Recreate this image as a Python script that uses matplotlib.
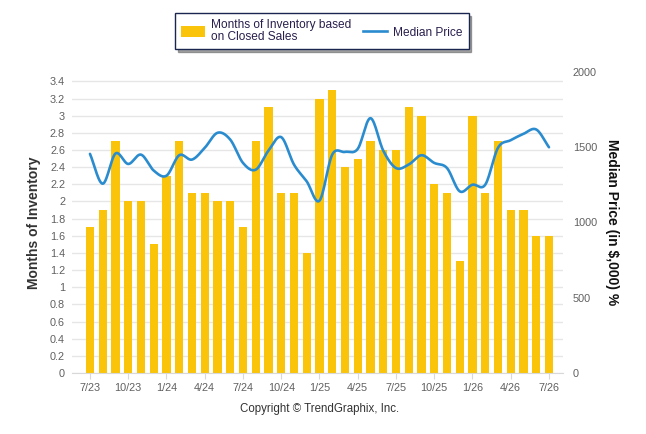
import numpy as np
import matplotlib
matplotlib.use("Agg")
import matplotlib.pyplot as plt
from matplotlib.patches import Patch
from matplotlib.lines import Line2D

months = ["7/23","8/23","9/23","10/23","11/23","12/23","1/24","2/24","3/24","4/24","5/24","6/24",
          "7/24","8/24","9/24","10/24","11/24","12/24","1/25","2/25","3/25","4/25","5/25","6/25",
          "7/25","8/25","9/25","10/25","11/25","12/25","1/26","2/26","3/26","4/26","5/26","6/26","7/26"]
inventory = [1.7,1.9,2.7,2.0,2.0,1.5,2.3,2.7,2.1,2.1,2.0,2.0,
             1.7,2.7,3.1,2.1,2.1,1.4,3.2,3.3,2.4,2.5,2.7,2.6,
             2.6,3.1,3.0,2.2,2.1,1.3,3.0,2.1,2.7,1.9,1.9,1.6,1.6]
median_price = [1456,1258,1458,1389,1451,1345,1311,1447,1418,1496,1596,1551,
                1396,1351,1478,1567,1385,1273,1145,1451,1469,1489,1693,1478,
                1362,1385,1447,1396,1362,1207,1251,1251,1496,1547,1589,1618,1500]
left_ticks = [round(0.2*i, 1) for i in range(18)]
right_ticks = [0, 500, 1000, 1500, 2000]

FONT = "Liberation Sans"
plt.rcParams['font.family'] = [FONT, 'DejaVu Sans']

def catmull_rom(x, y, n=24):
    x = np.asarray(x, float); y = np.asarray(y, float)
    xp = np.concatenate([[2*x[0]-x[1]], x, [2*x[-1]-x[-2]]])
    yp = np.concatenate([[2*y[0]-y[1]], y, [2*y[-1]-y[-2]]])
    xs, ys = [], []
    t = np.linspace(0, 1, n, endpoint=False)
    for i in range(1, len(xp)-2):
        p0, p1, p2, p3 = yp[i-1], yp[i], yp[i+1], yp[i+2]
        q0, q1, q2, q3 = xp[i-1], xp[i], xp[i+1], xp[i+2]
        f = lambda a0, a1, a2, a3: 0.5*((2*a1) + (-a0+a2)*t + (2*a0-5*a1+4*a2-a3)*t**2 + (-a0+3*a1-3*a2+a3)*t**3)
        xs.append(f(q0, q1, q2, q3)); ys.append(f(p0, p1, p2, p3))
    xs.append([x[-1]]); ys.append([y[-1]])
    return np.concatenate(xs), np.concatenate(ys)

fig = plt.figure(figsize=(6.46, 4.34), dpi=100)
ax = fig.add_axes([72/646, 61/434, (563-72)/646, (373-72)/434])
ax2 = ax.twinx()

x = np.arange(len(months))
ax.bar(x, inventory, width=0.66, color="#F9C40A", zorder=2)
ax.set_ylim(0, 3.509)
ax.set_xlim(-1.41, len(months)-1+1.1)
ax.set_yticks(left_ticks)
ax.set_yticklabels([("%g" % v) for v in left_ticks])
ax.grid(axis='y', color="#e6e6e6", linewidth=1, zorder=0)
ax.set_axisbelow(True)
ax.set_xticks(x[::3])
ax.set_xticklabels(months[::3])
for s in ["top", "left", "right"]:
    ax.spines[s].set_visible(False)
ax.spines["bottom"].set_color("#d8d8d8")
ax.tick_params(axis='y', length=0, pad=5, labelsize=7.8, labelcolor="#606060")
ax.tick_params(axis='x', length=4, color="#d8d8d8", pad=3, labelsize=7.8, labelcolor="#606060")
ax.set_ylabel("Months of Inventory", fontsize=10, fontweight="bold", color="#333333", labelpad=6)

sx, sy = catmull_rom(x, median_price)
ax2.plot(sx, sy, color="#2A8CCF", linewidth=1.9, zorder=3, solid_capstyle="round")
ax2.set_ylim(0, 2000)
ax2.set_yticks(right_ticks)
for s in ["top", "left", "right", "bottom"]:
    ax2.spines[s].set_visible(False)
ax2.tick_params(axis='y', length=0, pad=7, labelsize=7.8, labelcolor="#606060")
ax2.set_ylabel("Median Price (in $,000) %", fontsize=10, fontweight="bold", color="#111111",
               rotation=270, labelpad=16)

handles = [Patch(facecolor="#F9C40A", edgecolor="none"),
           Line2D([0], [0], color="#2A8CCF", linewidth=1.9)]
labels = ["Months of Inventory based\non Closed Sales", "Median Price"]
leg = fig.legend(handles, labels, loc="center", bbox_to_anchor=(322/646, 1-31/434), ncol=2,
                 frameon=True, fancybox=False, shadow=True, fontsize=8.6,
                 handlelength=2.0, handleheight=1.0, columnspacing=1.0, borderpad=0.5,
                 labelspacing=0.2, handletextpad=0.5)
leg.get_frame().set_edgecolor("#1b2650")
leg.get_frame().set_linewidth(1.0)
for t in leg.get_texts():
    t.set_color("#2a1f4d")
    t.set_linespacing(1.0)

fig.text(320/646, 1-409/434, "Copyright \u00a9 TrendGraphix, Inc.", ha="center", va="center",
         fontsize=8.3, color="#333333")

fig.savefig("out.png", dpi=100)
